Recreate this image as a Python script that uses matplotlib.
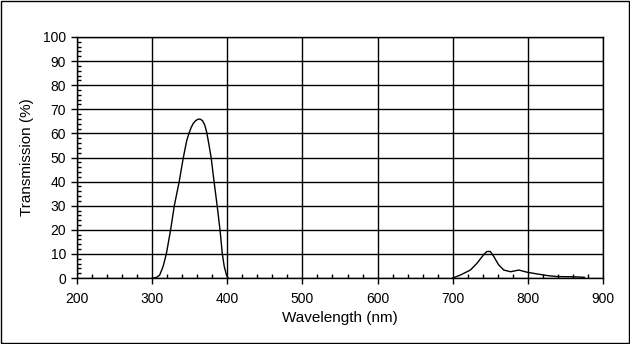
import matplotlib.pyplot as plt
from matplotlib.patches import Rectangle
from matplotlib.ticker import MultipleLocator

plt.rcParams["font.family"] = ["Liberation Sans", "DejaVu Sans"]

# UV pass band (nm, %)
uv_wavelength = [300, 304, 307, 310, 314.5, 318.9, 324.6, 329.5, 336, 341.5,
                 346, 349, 352, 354.8, 358, 361, 364, 367, 370, 372.6, 375.5,
                 378.5, 382.4, 386.5, 390.3, 393.4, 396, 399, 401]
uv_transmission = [0, 0.1, 0.5, 1.2, 4.7, 10, 20, 30, 40, 50,
                   57, 60, 62.5, 64.2, 65.3, 65.9, 65.9, 65.3, 63.5, 60.5, 55.5,
                   50, 40, 30, 20, 10, 4.7, 1.2, 0]

# red leak (nm, %)
nir_wavelength = [700, 710, 723.5, 732, 741, 745.5, 750, 754.5, 761, 768, 777,
                  788, 799, 812, 826, 839, 861, 875]
nir_transmission = [0, 1.2, 3.3, 6, 9.6, 11, 11, 9, 5.5, 3.3, 2.6,
                    3.3, 2.4, 1.7, 1.0, 0.6, 0.5, 0.3]

fig = plt.figure(figsize=(6.3, 3.44), dpi=100)
ax = fig.add_axes([77 / 630, 1 - 278 / 344, 526 / 630, 241 / 344])

ax.plot(uv_wavelength, uv_transmission, color="black", lw=1)
ax.plot(nir_wavelength, nir_transmission, color="black", lw=1)

ax.set_xlim(200, 900)
ax.set_ylim(0, 100)
ax.xaxis.set_major_locator(MultipleLocator(100))
ax.yaxis.set_major_locator(MultipleLocator(10))
ax.xaxis.set_minor_locator(MultipleLocator(20))
ax.yaxis.set_minor_locator(MultipleLocator(2))
ax.tick_params(which="major", direction="out", length=4, width=1,
               labelsize=10, colors="black")
ax.tick_params(axis="x", which="major", pad=6)
ax.tick_params(axis="y", which="major", pad=4)
ax.tick_params(which="minor", direction="in", length=3, width=1)
ax.grid(True, which="major", color="black", lw=1)
for s in ax.spines.values():
    s.set_linewidth(1)

ax.set_xlabel("Wavelength (nm)", fontsize=11, labelpad=4)
ax.set_ylabel("Transmission (%)", fontsize=11, labelpad=6)

fig.patches.append(Rectangle((0.001, 0.002), 0.997, 0.995, transform=fig.transFigure,
                             fill=False, edgecolor="black", lw=1))

fig.savefig("out.png", dpi=100)
